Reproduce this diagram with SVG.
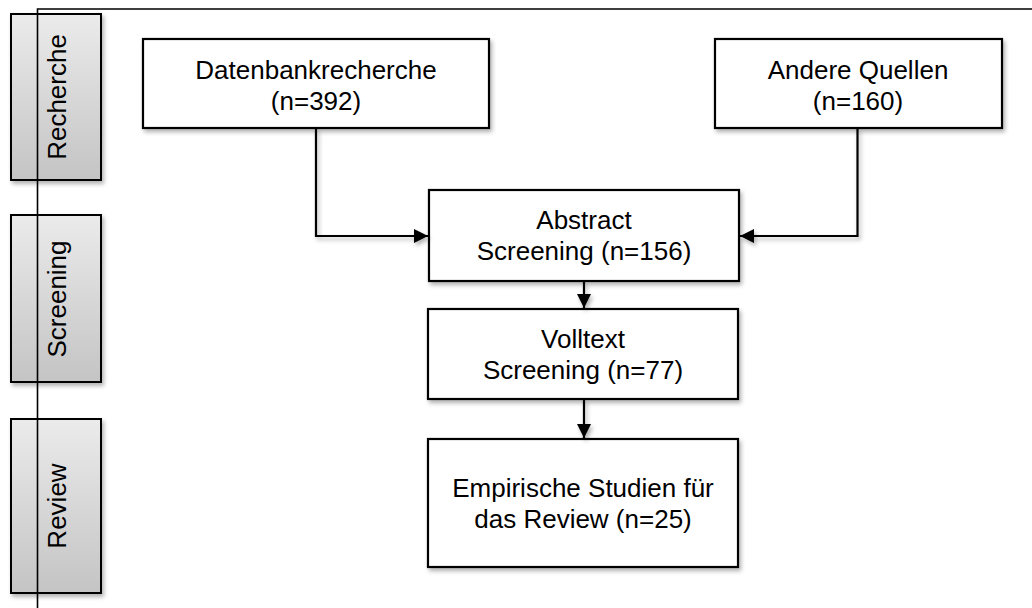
<svg xmlns="http://www.w3.org/2000/svg" width="1032" height="608" viewBox="0 0 1032 608">
<defs>
<linearGradient id="phaseGrad" x1="0" y1="0" x2="0" y2="1">
<stop offset="0" stop-color="#ebebeb"/>
<stop offset="1" stop-color="#c4c4c4"/>
</linearGradient>
<filter id="shadow" filterUnits="userSpaceOnUse" x="0" y="0" width="1032" height="608">
<feDropShadow dx="2" dy="3" stdDeviation="2" flood-color="#000" flood-opacity="0.3"/>
</filter>
<marker id="arrow" viewBox="0 0 14 14" refX="14" refY="7" markerWidth="14" markerHeight="14" markerUnits="userSpaceOnUse" orient="auto">
<path d="M0,0 L14,7 L0,14 Z" fill="#000"/>
</marker>
</defs>
<style>
.phase{fill:url(#phaseGrad);stroke:#000;stroke-width:2;filter:url(#shadow)}
.box{fill:#fff;stroke:#000;stroke-width:2.2;filter:url(#shadow)}
.t{font-family:"Liberation Sans",Arial,sans-serif;font-size:26px;fill:#000;text-anchor:middle}
.conn{fill:none;stroke:#000;stroke-width:2.2;filter:url(#shadow)}
.frame{fill:none;stroke:#000;stroke-width:1.6}
</style>
<rect width="1032" height="608" fill="#fff"/>
<g id="phase-recherche">
<rect class="phase" x="11" y="14" width="90" height="166"/>
<text class="t" transform="translate(66,97) rotate(-90)">Recherche</text>
</g>
<g id="phase-screening">
<rect class="phase" x="11" y="215" width="90" height="167"/>
<text class="t" transform="translate(66,299) rotate(-90)">Screening</text>
</g>
<g id="phase-review">
<rect class="phase" x="11" y="419" width="90" height="174"/>
<text class="t" transform="translate(66,506) rotate(-90)">Review</text>
</g>
<g id="frame">
<path class="frame" d="M37.5,608 L37.5,9 L1032,9"/>
</g>
<g id="node-datenbank">
<rect class="box" x="143" y="39" width="346" height="89"/>
<text class="t" x="316" y="79">Datenbankrecherche</text>
<text class="t" x="316" y="110">(n=392)</text>
</g>
<g id="node-andere">
<rect class="box" x="715" y="39" width="287" height="89"/>
<text class="t" x="858" y="79">Andere Quellen</text>
<text class="t" x="858" y="110">(n=160)</text>
</g>
<g id="node-abstract">
<rect class="box" x="429" y="190" width="310" height="91"/>
<text class="t" x="584" y="229">Abstract</text>
<text class="t" x="584" y="260">Screening (n=156)</text>
</g>
<g id="node-volltext">
<rect class="box" x="428" y="309" width="310" height="90"/>
<text class="t" x="583" y="348">Volltext</text>
<text class="t" x="583" y="379">Screening (n=77)</text>
</g>
<g id="node-review">
<rect class="box" x="428" y="439" width="310" height="128"/>
<text class="t" x="583" y="497">Empirische Studien für</text>
<text class="t" x="583" y="528">das Review (n=25)</text>
</g>
<g id="connectors">
<path class="conn" d="M316,128 L316,236 L428,236" marker-end="url(#arrow)"/>
<path class="conn" d="M857.5,128 L857.5,236 L740,236" marker-end="url(#arrow)"/>
<path class="conn" d="M584,281 L584,308" marker-end="url(#arrow)"/>
<path class="conn" d="M584,399 L584,438" marker-end="url(#arrow)"/>
</g>
</svg>
